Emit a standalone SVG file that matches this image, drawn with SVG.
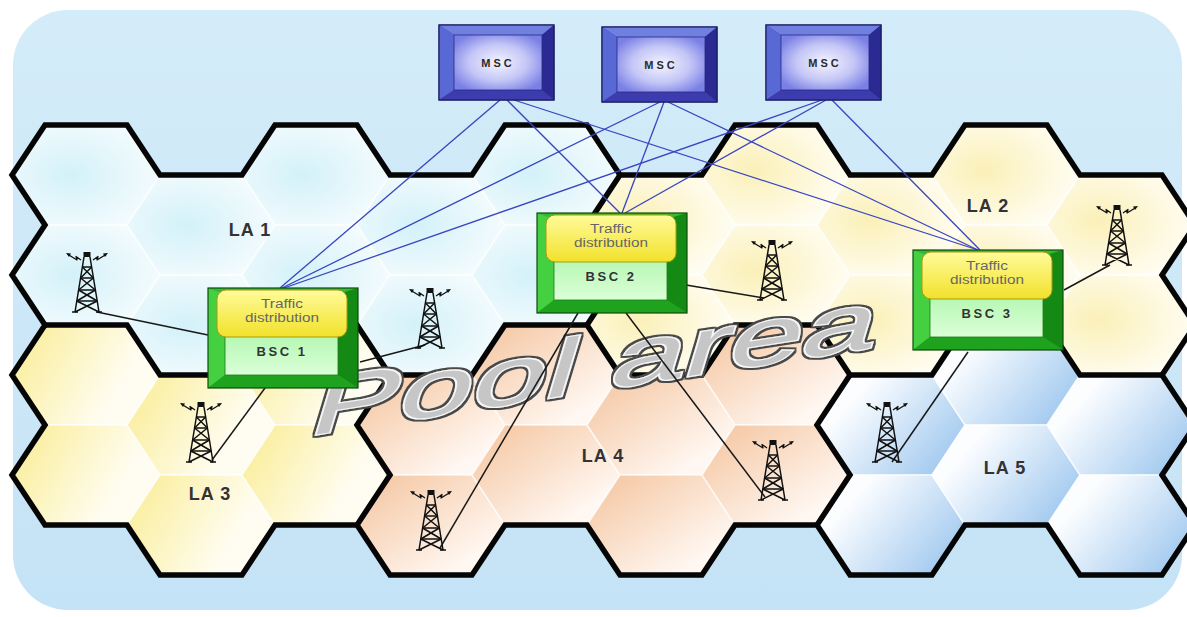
<svg xmlns="http://www.w3.org/2000/svg" xmlns:xlink="http://www.w3.org/1999/xlink" width="1187" height="617" viewBox="0 0 1187 617">
  <defs>
    <style>
      .c1{fill:url(#gLA1)} .c2{fill:url(#gLA2)} .c3{fill:url(#gLA3)} .c4{fill:url(#gLA4)} .c5{fill:url(#gLA5)}
      .cell{stroke:#ffffff;stroke-opacity:.7;stroke-width:1.5}
      .bound{fill:none;stroke:#050505;stroke-width:5.5;stroke-linejoin:miter}
      .la{font-family:"Liberation Sans",Arial,sans-serif;font-weight:bold;font-size:18px;fill:#333;text-anchor:middle;letter-spacing:1px}
      .blue{stroke:#3845c0;stroke-width:1.3;fill:none}
      .wire{stroke:#181818;stroke-width:1.5;fill:none}
      .msct{font-family:"Liberation Sans",Arial,sans-serif;font-weight:bold;font-size:11px;fill:#2a2a2a;text-anchor:middle;letter-spacing:3px}
      .td{font-family:"Liberation Sans",Arial,sans-serif;font-size:12px;fill:#666;text-anchor:middle}
      .bsct{font-family:"Liberation Sans",Arial,sans-serif;font-weight:bold;font-size:13px;fill:#333;text-anchor:middle;letter-spacing:2.5px}
      .pool{font-family:"Liberation Sans",Arial,sans-serif;font-size:72px;fill:#c6c6c6;stroke:#f6f6f6;stroke-width:2.2;paint-order:stroke}
    </style>

    <linearGradient id="gBg" x1="0" y1="0" x2="0" y2="1">
      <stop offset="0" stop-color="#d4ecf9"/>
      <stop offset="1" stop-color="#c5e3f6"/>
    </linearGradient>
    <radialGradient id="gLA1" cx="0.4" cy="0.5" r="0.7">
      <stop offset="0" stop-color="#d3f1f9"/>
      <stop offset="1" stop-color="#f9fdfe"/>
    </radialGradient>
    <radialGradient id="gLA2" cx="0.35" cy="0.45" r="0.7">
      <stop offset="0" stop-color="#fbf0b8"/>
      <stop offset="1" stop-color="#fffef7"/>
    </radialGradient>
    <linearGradient id="gLA3" x1="0" y1="0.3" x2="1" y2="0.7">
      <stop offset="0" stop-color="#faee9c"/>
      <stop offset="0.75" stop-color="#fffdf2"/>
    </linearGradient>
    <linearGradient id="gLA4" x1="0" y1="0" x2="1" y2="1">
      <stop offset="0" stop-color="#f4c39c"/>
      <stop offset="0.8" stop-color="#fff7f1"/>
    </linearGradient>
    <linearGradient id="gLA5" x1="0" y1="0.2" x2="1" y2="0.8">
      <stop offset="0.2" stop-color="#fbfdff"/>
      <stop offset="1" stop-color="#9cc6ee"/>
    </linearGradient>
    <radialGradient id="gMsc" cx="0.5" cy="0.5" r="0.6">
      <stop offset="0" stop-color="#f4f4ff"/>
      <stop offset="0.55" stop-color="#c4c6f6"/>
      <stop offset="1" stop-color="#7a80e6"/>
    </radialGradient>
    <linearGradient id="gBscFace" x1="0" y1="0" x2="0" y2="1">
      <stop offset="0" stop-color="#8ff08c"/>
      <stop offset="1" stop-color="#dbffd8"/>
    </linearGradient>
    <linearGradient id="gTraffic" x1="0" y1="0" x2="0" y2="1">
      <stop offset="0" stop-color="#fffb9a"/>
      <stop offset="1" stop-color="#f2e12a"/>
    </linearGradient>

    <filter id="rim" x="-5%" y="-15%" width="110%" height="130%">
      <feMorphology in="SourceAlpha" operator="dilate" radius="1.5" result="d"/>
      <feFlood flood-color="#484848"/>
      <feComposite in2="d" operator="in" result="o"/>
      <feMerge><feMergeNode in="o"/><feMergeNode in="SourceGraphic"/></feMerge>
    </filter>

    <!-- one cell of the honeycomb, origin at the top-left corner of its top edge -->
    <polygon id="hx" points="0,0 82,0 115,50 82,100 0,100 -33,50"/>

    <!-- lattice mast with radio waves, origin at the top centre -->
    <g id="tower" fill="none" stroke="#111" stroke-width="1.5" stroke-linejoin="round">
      <rect x="-3.5" y="0" width="7" height="5" fill="#111" stroke="none"/>
      <path d="M-3,5 L-12,60 M3,5 L12,60 M-15,60 H-9 M9,60 H15"/>
      <path d="M-4.6,15 H4.6 M-6.4,26 H6.4 M-8.4,38 H8.4 M-10.2,49 H10.2"/>
      <path d="M-4.6,15 L6.4,26 M4.6,15 L-6.4,26 M-6.4,26 L8.4,38 M6.4,26 L-8.4,38 M-8.4,38 L10.2,49 M8.4,38 L-10.2,49 M-10.2,49 L12,60 M10.2,49 L-12,60"/>
      <path d="M-6,8 L-11,4.5 L-10,8 L-19,2.5" stroke-width="1.3"/>
      <path d="M6,8 L11,4.5 L10,8 L19,2.5" stroke-width="1.3"/>
      <path d="M-21,1 L-16,1.5 L-18,5 Z M21,1 L16,1.5 L18,5 Z" fill="#111" stroke="none"/>
    </g>

    <!-- bevelled switch cabinet, 115 x 75 -->
    <g id="mscBox">
      <rect x="0" y="0" width="115" height="75" fill="#3a3aa8" stroke="#1b1b60" stroke-width="1"/>
      <polygon points="0,0 115,0 103,10 15,10" fill="#7080e0"/>
      <polygon points="0,0 15,10 15,65 0,75" fill="#5868d4"/>
      <polygon points="115,0 115,75 103,65 103,10" fill="#2a2a92"/>
      <polygon points="0,75 15,65 103,65 115,75" fill="#3c3cae"/>
      <rect x="15" y="10" width="88" height="55" fill="url(#gMsc)" stroke="#2a2a80" stroke-width="0.8"/>
      <rect x="0" y="0" width="115" height="75" fill="none" stroke="#1b1b60" stroke-width="1.2"/>
    </g>

    <!-- bevelled controller cabinet, 150 x 100 -->
    <g id="bscBox">
      <rect x="0" y="0" width="150" height="100" fill="#22a022"/>
      <polygon points="0,0 150,0 130,6 17,6" fill="#33bb33"/>
      <polygon points="0,0 17,6 17,87 0,100" fill="#44d040"/>
      <polygon points="150,0 150,100 130,87 130,6" fill="#148a14"/>
      <polygon points="0,100 17,87 130,87 150,100" fill="#1fa31f"/>
      <rect x="17" y="6" width="113" height="81" fill="url(#gBscFace)" stroke="#1a7a1a" stroke-width="0.8"/>
      <rect x="0" y="0" width="150" height="100" fill="none" stroke="#0c4c0c" stroke-width="1.2"/>
      <rect x="9" y="2" width="130" height="47" rx="9" fill="url(#gTraffic)" stroke="#a89a10" stroke-width="1"/>
    </g>
  </defs>

  <!-- backdrop -->
  <rect x="13" y="10" width="1169" height="600" rx="55" fill="url(#gBg)"/>

  <!-- honeycomb cells, coloured by location area -->
  <g id="cells" class="cell">
    <use href="#hx" x="45" y="125" class="c1"/><use href="#hx" x="45" y="225" class="c1"/><use href="#hx" x="45" y="325" class="c3"/><use href="#hx" x="45" y="425" class="c3"/>
    <use href="#hx" x="160" y="175" class="c1"/><use href="#hx" x="160" y="275" class="c1"/><use href="#hx" x="160" y="375" class="c3"/><use href="#hx" x="160" y="475" class="c3"/>
    <use href="#hx" x="275" y="125" class="c1"/><use href="#hx" x="275" y="225" class="c1"/><use href="#hx" x="275" y="325" class="c3"/><use href="#hx" x="275" y="425" class="c3"/>
    <use href="#hx" x="390" y="175" class="c1"/><use href="#hx" x="390" y="275" class="c1"/><use href="#hx" x="390" y="375" class="c4"/><use href="#hx" x="390" y="475" class="c4"/>
    <use href="#hx" x="505" y="125" class="c1"/><use href="#hx" x="505" y="225" class="c1"/><use href="#hx" x="505" y="325" class="c4"/><use href="#hx" x="505" y="425" class="c4"/>
    <use href="#hx" x="620" y="175" class="c2"/><use href="#hx" x="620" y="275" class="c2"/><use href="#hx" x="620" y="375" class="c4"/><use href="#hx" x="620" y="475" class="c4"/>
    <use href="#hx" x="735" y="125" class="c2"/><use href="#hx" x="735" y="225" class="c2"/><use href="#hx" x="735" y="325" class="c4"/><use href="#hx" x="735" y="425" class="c4"/>
    <use href="#hx" x="850" y="175" class="c2"/><use href="#hx" x="850" y="275" class="c2"/><use href="#hx" x="850" y="375" class="c5"/><use href="#hx" x="850" y="475" class="c5"/>
    <use href="#hx" x="965" y="125" class="c2"/><use href="#hx" x="965" y="225" class="c2"/><use href="#hx" x="965" y="325" class="c5"/><use href="#hx" x="965" y="425" class="c5"/>
    <use href="#hx" x="1080" y="175" class="c2"/><use href="#hx" x="1080" y="275" class="c2"/><use href="#hx" x="1080" y="375" class="c5"/><use href="#hx" x="1080" y="475" class="c5"/>
  </g>

  <!-- location area borders -->
  <g id="la-borders" class="bound">
    <path d="M45,125 H127 L160,175 H242 L275,125 H357 L390,175 H472 L505,125 H587 L620,175 H702 L735,125 H817 L850,175 H932 L965,125 H1047 L1080,175 H1162 L1195,225 L1162,275 L1195,325 L1162,375 L1195,425 L1162,475 L1195,525 L1162,575 H1080 L1047,525 H965 L932,575 H850 L817,525 H735 L702,575 H620 L587,525 H505 L472,575 H390 L357,525 H275 L242,575 H160 L127,525 H45 L12,475 L45,425 L12,375 L45,325 L12,275 L45,225 L12,175 Z"/>
    <path d="M45,325 H127 L160,375 H242 L275,325 H357 L390,375 H472 L505,325 H587 L620,375 H702 L735,325 H817 L850,375 H932 L965,325 H1047 L1080,375 H1162"/>
    <path d="M587,325 L620,275 L587,225 L620,175"/>
    <path d="M390,375 L357,425 L390,475 L357,525"/>
    <path d="M850,375 L817,425 L850,475 L817,525"/>
  </g>

  <!-- area labels -->
  <g id="la-labels">
    <text class="la" x="250" y="236">LA 1</text>
    <text class="la" x="988" y="212">LA 2</text>
    <text class="la" x="210" y="500">LA 3</text>
    <text class="la" x="603" y="462">LA 4</text>
    <text class="la" x="1005" y="474">LA 5</text>
  </g>

  <!-- pool caption: wide, slanted and tilted upwards -->
  <g id="pool-caption" filter="url(#rim)">
    <text class="pool" transform="matrix(1.83 -0.286 -0.35 1.16 306 436)">Pool area</text>
  </g>

  <!-- links -->
  <g id="connectors">
    <g class="blue">
      <path d="M500,100 L280,288"/>
      <path d="M507,100 L620,213"/>
      <path d="M514,100 L978,250"/>
      <path d="M660,102 L282,288"/>
      <path d="M664,102 L622,213"/>
      <path d="M668,102 L978,250"/>
      <path d="M822,100 L284,288"/>
      <path d="M826,100 L625,213"/>
      <path d="M832,100 L980,250"/>
    </g>
    <g class="wire">
      <path d="M208,335 L97,312"/>
      <path d="M360,362 L425,345"/>
      <path d="M265,388 L212,460"/>
      <path d="M578,313 L440,548"/>
      <path d="M686,285 L764,298"/>
      <path d="M626,313 L765,497"/>
      <path d="M1064,290 L1110,265"/>
      <path d="M968,352 L892,462"/>
    </g>
  </g>

  <!-- base stations -->
  <g id="bts-a"><use href="#tower" x="87" y="252"/></g>
  <g id="bts-b"><use href="#tower" x="430" y="288"/></g>
  <g id="bts-c"><use href="#tower" x="201" y="402"/></g>
  <g id="bts-d"><use href="#tower" x="431" y="490"/></g>
  <g id="bts-e"><use href="#tower" x="772" y="240"/></g>
  <g id="bts-f"><use href="#tower" x="773" y="440"/></g>
  <g id="bts-g"><use href="#tower" x="1117" y="205"/></g>
  <g id="bts-h"><use href="#tower" x="887" y="402"/></g>

  <!-- controllers -->
  <g id="bsc1" transform="translate(208,288)">
    <use href="#bscBox"/>
    <text class="td" x="74" y="20" textLength="42" lengthAdjust="spacingAndGlyphs">Traffic</text>
    <text class="td" x="74" y="34" textLength="74" lengthAdjust="spacingAndGlyphs">distribution</text>
    <text class="bsct" x="74" y="68">BSC 1</text>
  </g>
  <g id="bsc2" transform="translate(537,213)">
    <use href="#bscBox"/>
    <text class="td" x="74" y="20" textLength="42" lengthAdjust="spacingAndGlyphs">Traffic</text>
    <text class="td" x="74" y="34" textLength="74" lengthAdjust="spacingAndGlyphs">distribution</text>
    <text class="bsct" x="74" y="68">BSC 2</text>
  </g>
  <g id="bsc3" transform="translate(913,250)">
    <use href="#bscBox"/>
    <text class="td" x="74" y="20" textLength="42" lengthAdjust="spacingAndGlyphs">Traffic</text>
    <text class="td" x="74" y="34" textLength="74" lengthAdjust="spacingAndGlyphs">distribution</text>
    <text class="bsct" x="74" y="68">BSC 3</text>
  </g>

  <!-- switching centres -->
  <g id="msc1" transform="translate(439,25)">
    <use href="#mscBox"/>
    <text class="msct" x="59" y="42">MSC</text>
  </g>
  <g id="msc2" transform="translate(602,27)">
    <use href="#mscBox"/>
    <text class="msct" x="59" y="42">MSC</text>
  </g>
  <g id="msc3" transform="translate(766,25)">
    <use href="#mscBox"/>
    <text class="msct" x="59" y="42">MSC</text>
  </g>
</svg>
